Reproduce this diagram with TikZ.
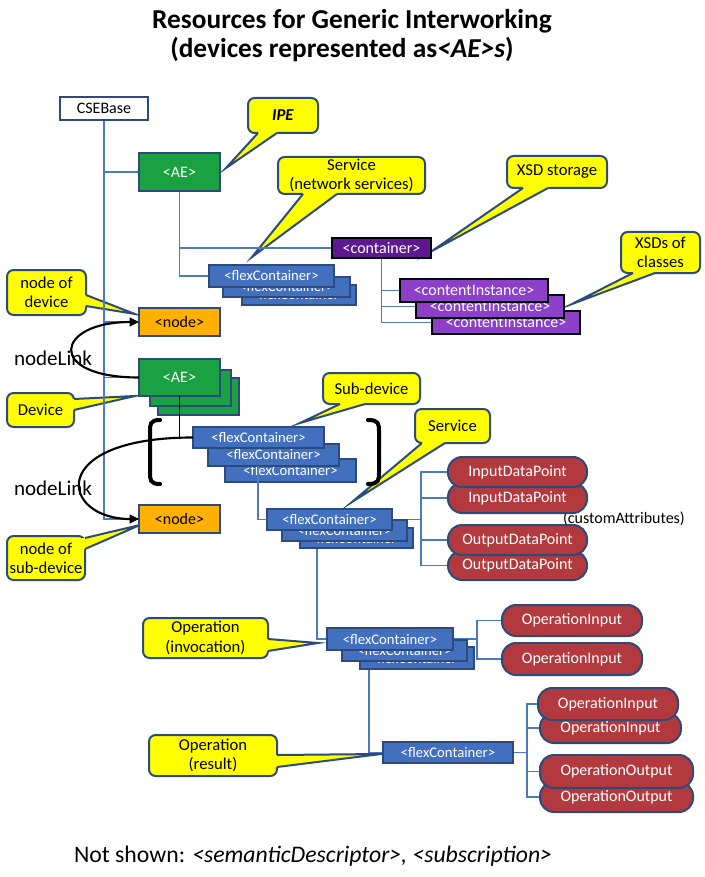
\documentclass[tikz,border=0pt]{standalone}
\usepackage{fontspec}
\setmainfont{Carlito}
\usetikzlibrary{calc,arrows.meta}
\definecolor{cb}{HTML}{2C4A7A}
\definecolor{cyel}{HTML}{FFFF00}
\definecolor{fcblue}{HTML}{4270BE}
\definecolor{treeblue}{HTML}{4A7BC0}
\definecolor{aegreen}{HTML}{1AA142}
\definecolor{nodeor}{HTML}{FFB000}
\definecolor{contp}{HTML}{5E1990}
\definecolor{cip}{HTML}{8C3FC9}
\definecolor{dpred}{HTML}{B23A3E}
\pgfdeclarelayer{bglayer}
\pgfdeclarelayer{calloutlayer}
\pgfdeclarelayer{treelayer}
\pgfsetlayers{bglayer,calloutlayer,treelayer,main}
\newcommand\bx[7]{\node[#2, minimum width={(#5-#3)*0.75pt}, minimum height={(#6-#4)*0.75pt}] (#1) at ({(#3+#5)/2},{(#4+#6)/2}) {#7};}
\newcommand\ptr[4]{\fill[cyel] ($#1+#4$) -- #1 -- #3 -- #2 -- ($#2+#4$) -- cycle;
 \draw[cb, line width=1.5pt, line join=miter, miter limit=25] #1 -- #3 -- #2;}
\begin{document}
\begin{tikzpicture}[x=0.75pt,y=-0.75pt,
 every node/.style={inner sep=0pt, outer sep=0pt},
 bxs/.style={rectangle, draw=cb, line width=1.5pt, font=\fontsize{12}{14}\selectfont},
 csebox/.style={bxs, fill=white},
 aebox/.style={bxs, fill=aegreen, text=white},
 ndbox/.style={bxs, fill=nodeor},
 fcbox/.style={bxs, fill=fcblue, text=white, font=\fontsize{11}{13}\selectfont},
 ctbox/.style={bxs, draw=black, line width=1.8pt, fill=contp, text=white},
 cibox/.style={bxs, draw=black, line width=1.8pt, fill=cip, text=white},
 pill/.style={bxs, rounded corners=10.5pt, fill=dpred, text=white},
 cbox/.style={rectangle, rounded corners=5pt, fill=cyel, draw=cb, line width=1.5pt, align=center, font=\fontsize{12.5}{14.5}\selectfont},
 tree/.style={draw=treeblue, line width=0.8pt},
 link/.style={draw=black, line width=1.6pt, -{Triangle[length=7pt,width=6.5pt]}},
 brk/.style={draw=black, line width=3pt, line cap=round}
]
\begin{pgfonlayer}{bglayer}
\fill[white] (0,0) rectangle (705,877);
\end{pgfonlayer}
\useasboundingbox (0,0) rectangle (705,877);

% titles and free texts
\node[font=\fontsize{20.5}{24}\selectfont\bfseries] (t1) at (352,21) {Resources for Generic Interworking};
\node[font=\fontsize{20.5}{24}\selectfont\bfseries] (t2) at (342,50) {(devices represented as\textit{<AE>s})};
\node[anchor=west, font=\fontsize{17.8}{20}\selectfont] (ns) at (74,856) {Not shown: \textit{<semanticDescriptor>, <subscription>}};
\node[anchor=west, font=\fontsize{15.8}{18}\selectfont] (nl1) at (14,358) {nodeLink};
\node[anchor=west, font=\fontsize{15.8}{18}\selectfont] (nl2) at (14,488) {nodeLink};
\node[anchor=west, font=\fontsize{12}{14}\selectfont] (ca) at (563,519) {(customAttributes)};

% boxes
\bx{cse}{csebox}{60}{97}{148}{120}{CSEBase}
\bx{ae1}{aebox}{139}{153}{220}{191}{<AE>}
\bx{cont}{ctbox}{332}{238}{431}{258}{<container>}
\bx{ci3}{cibox}{432}{311}{580}{334}{<contentInstance>}
\bx{ci2}{cibox}{416}{295}{564}{318}{<contentInstance>}
\bx{ci1}{cibox}{400}{279}{548}{302}{<contentInstance>}
\bx{f1c}{fcbox}{242}{285}{356}{305}{<flexContainer>}
\bx{f1b}{fcbox}{223}{277}{350}{297}{<flexContainer>}
\bx{f1a}{fcbox}{209}{265}{334}{287}{<flexContainer>}
\bx{nd1}{ndbox}{139}{308}{220}{336}{<node>}
\bx{ae2c}{aebox}{158}{378}{239}{415}{}
\bx{ae2b}{aebox}{150}{370}{231}{406}{}
\bx{ae2a}{aebox}{139}{359}{220}{396}{<AE>}
\bx{f2c}{fcbox}{225}{459}{356}{482}{<flexContainer>}
\bx{f2b}{fcbox}{208}{444}{339}{466}{<flexContainer>}
\bx{f2a}{fcbox}{193}{427}{324}{448}{<flexContainer>}
\bx{nd2}{ndbox}{139}{505}{220}{533}{<node>}
\bx{f3c}{fcbox}{300}{528}{413}{548}{<flexContainer>}
\bx{f3b}{fcbox}{282}{520}{407}{541}{<flexContainer>}
\bx{f3a}{fcbox}{267}{509}{392}{530}{<flexContainer>}
\bx{dp2}{pill}{448}{483}{587}{513}{InputDataPoint}
\bx{dp1}{pill}{448}{457}{587}{487}{InputDataPoint}
\bx{dp4}{pill}{448}{551}{587}{580}{OutputDataPoint}
\bx{dp3}{pill}{448}{525}{587}{555}{OutputDataPoint}
\bx{f4c}{fcbox}{360}{647}{474}{669}{<flexContainer>}
\bx{f4b}{fcbox}{342}{640}{467}{661}{<flexContainer>}
\bx{f4a}{fcbox}{327}{628}{453}{650}{<flexContainer>}
\bx{oi1}{pill}{502}{605}{642}{636}{OperationInput}
\bx{oi2}{pill}{502}{643}{642}{675}{OperationInput}
\bx{f5}{fcbox}{383}{742}{513}{763}{<flexContainer>}
\bx{oi4}{pill}{540}{713}{681}{743}{OperationInput}
\bx{oi3}{pill}{538}{688}{678}{720}{OperationInput}
\bx{oo2}{pill}{540}{782}{693}{812}{OperationOutput}
\bx{oo1}{pill}{540}{755}{693}{788}{OperationOutput}

% junction coordinates and pointer tips
\coordinate (j3) at (421,519.5);
\coordinate (j4) at (477,639);
\coordinate (j5) at (527,752.5);
\coordinate (ipeTip) at (226,168);
\coordinate (svcTip) at (252,257);
\coordinate (xsdTip) at (432,251);
\coordinate (xsdcTip) at (572,304);
\coordinate (ndevTip) at (135,314);
\coordinate (devTip) at (135,396);
\coordinate (nsubTip) at (140,525);
\coordinate (subTip) at (300,423);
\coordinate (svc2Tip) at (352,502);
\coordinate (opiTip) at (318,643);
\coordinate (oprTip) at (381,754);

% callouts
\begin{pgfonlayer}{calloutlayer}
\bx{ipe}{cbox}{248}{98}{318}{133}{\textbf{\textit{IPE}}}
\ptr{(258,133)}{(277,133)}{(ipeTip)}{(0,-4)}
\bx{svc}{cbox}{278}{157}{425}{194}{Service\\(network services)}
\ptr{(303,194)}{(337,194)}{(svcTip)}{(0,-4)}
\bx{xsd}{cbox}{507}{156}{607}{188}{XSD storage}
\ptr{(523,188)}{(548,188)}{(xsdTip)}{(0,-4)}
\bx{xsdc}{cbox}{621}{232}{700}{273}{XSDs of\\classes}
\ptr{(633,273)}{(655,273)}{(xsdcTip)}{(0,-4)}
\bx{ndev}{cbox}{7}{270}{86}{315}{node of\\device}
\ptr{(86,295)}{(86,306)}{(ndevTip)}{(-4,0)}
\bx{dev}{cbox}{7}{393}{74}{427}{Device}
\ptr{(74,399)}{(74,410)}{(devTip)}{(-4,0)}
\bx{nsub}{cbox}{7}{536}{85}{580}{node of\\sub-device}
\ptr{(85,538)}{(85,549)}{(nsubTip)}{(-4,0)}
\bx{sub}{cbox}{323}{373}{420}{404}{Sub-device}
\ptr{(340,404)}{(365,404)}{(subTip)}{(0,-4)}
\bx{svc2}{cbox}{415}{409}{490}{443}{Service}
\ptr{(422,443)}{(445,443)}{(svc2Tip)}{(0,-4)}
\bx{opi}{cbox}{143}{618}{268}{658}{Operation\\(invocation)}
\ptr{(268,639)}{(268,651)}{(opiTip)}{(-4,0)}
\bx{opr}{cbox}{149}{735}{277}{776}{Operation\\(result)}
\ptr{(277,755)}{(277,767)}{(oprTip)}{(-4,0)}
\end{pgfonlayer}

% tree connectors
\begin{pgfonlayer}{treelayer}
\draw[tree] (cse.south) |- (ae1.west);
\draw[tree] (cse.south) |- (nd1.west);
\draw[tree] (cse.south) |- (ae2a.west);
\draw[tree] (cse.south) |- (nd2.west);
\draw[tree] (ae1.south) |- (cont.west);
\draw[tree] (ae1.south) |- (f1a.west);
\draw[tree] (cont.south) |- (ci1.west);
\draw[tree] (cont.south) |- (ci2.west);
\draw[tree] (cont.south) |- (ci3.west);
\draw[tree] (f3a.east) -- (j3);
\draw[tree] (j3) |- (dp1.west);
\draw[tree] (j3) |- (dp2.west);
\draw[tree] (j3) |- (dp3.west);
\draw[tree] (j3) |- (dp4.west);
\draw[tree] (f3c.south west) ++(17,0) |- (f4a.west);
\draw[tree] (f4a.east) -- (j4);
\draw[tree] (j4) |- (oi1.west);
\draw[tree] (j4) |- (oi2.west);
\draw[tree] (f4c.south west) ++(9,0) |- (f5.west);
\draw[tree] (f5.east) -- (j5);
\draw[tree] (j5) |- (oi3.west);
\draw[tree] (j5) |- (oi4.west);
\draw[tree] (j5) |- (oo1.west);
\draw[tree] (j5) |- (oo2.west);
\end{pgfonlayer}

% links on top
\draw[tree] (f2b.south west) ++(50,0) |- (f3a.west);
\draw[black, line width=1pt] (ae2a.south) -- ++(0,42);
\draw[link] (ae2a.west) .. controls (45,377.5) and (55,322) .. (nd1.west);
\draw[link] (f2a.west) .. controls (45,437.5) and (60,519) .. (nd2.west);
\draw[brk] (160,420) .. controls (150,420) and (150,424) .. (150,432) -- (150,472) .. controls (150,480) and (150,484) .. (160,484);
\draw[brk] (368,420) .. controls (379,420) and (379,424) .. (379,432) -- (379,472) .. controls (379,480) and (379,484) .. (368,484);
\end{tikzpicture}
\end{document}
